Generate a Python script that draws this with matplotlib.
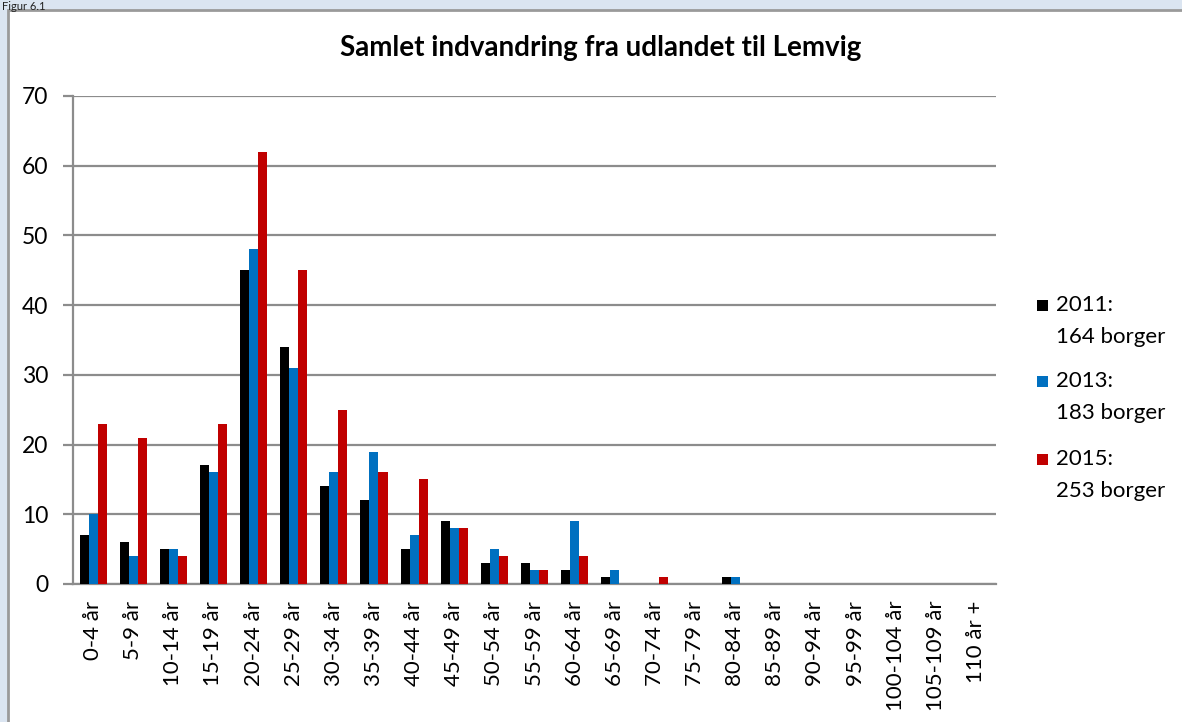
import matplotlib
matplotlib.use("Agg")
import matplotlib.pyplot as plt
import numpy as np
from matplotlib.patches import Rectangle

categories = ["0-4 år", "5-9 år", "10-14 år", "15-19 år", "20-24 år", "25-29 år",
              "30-34 år", "35-39 år", "40-44 år", "45-49 år", "50-54 år", "55-59 år",
              "60-64 år", "65-69 år", "70-74 år", "75-79 år", "80-84 år", "85-89 år",
              "90-94 år", "95-99 år", "100-104 år", "105-109 år", "110 år +"]
v2011 = [7, 6, 5, 17, 45, 34, 14, 12, 5, 9, 3, 3, 2, 1, 0, 0, 1, 0, 0, 0, 0, 0, 0]
v2013 = [10, 4, 5, 16, 48, 31, 16, 19, 7, 8, 5, 2, 9, 2, 0, 0, 1, 0, 0, 0, 0, 0, 0]
v2015 = [23, 21, 4, 23, 62, 45, 25, 16, 15, 8, 4, 2, 4, 0, 1, 0, 0, 0, 0, 0, 0, 0, 0]
series_years = ["2011:", "2013:", "2015:"]
series_counts = ["164 borger", "183 borger", "253 borger"]
colors = ["#000000", "#0070c0", "#c00000"]
yticks = [0, 10, 20, 30, 40, 50, 60, 70]

W, H = 1182, 722
plt.rcParams['font.family'] = ['Lato', 'DejaVu Sans']
fig = plt.figure(figsize=(W / 100, H / 100), dpi=100)
fig.patch.set_facecolor("#dbe5f1")

# white panel with gray border
panel = Rectangle((8 / W, -0.1), 1.2, 1.1 - 10 / H, transform=fig.transFigure,
                  facecolor="white", edgecolor="#9a9a9a", linewidth=2, zorder=0)
fig.add_artist(panel)
fig.text(2 / W, 1 - 1 / H, "Figur 6.1", fontsize=8, va="top", ha="left",
         color="#222222", zorder=5)

ax = fig.add_axes([73 / W, 1 - 584 / H, (996 - 73) / W, (584 - 96) / H])
ax.set_facecolor("none")
x = np.arange(len(categories))
bw = 0.225
for i, (vals, c) in enumerate(zip([v2011, v2013, v2015], colors)):
    ax.bar(x + (i - 1) * bw, vals, width=bw, color=c, zorder=3)

ax.set_xlim(-0.5, len(categories) - 0.5)
ax.set_ylim(0, 70)
ax.set_yticks(yticks)
ax.set_yticklabels([str(t) for t in yticks], fontsize=16.5)
ax.yaxis.grid(True, color="#8c8c8c", linewidth=1.6, zorder=1)
ax.set_xticks(x)
ax.set_xticklabels(categories, rotation=90, fontsize=16, va="top")
ax.tick_params(axis="x", length=0, pad=12)
ax.tick_params(axis="y", length=7, width=1.6, color="#8c8c8c", pad=11)
for s in ["top", "right"]:
    ax.spines[s].set_visible(False)
for s in ["left", "bottom"]:
    ax.spines[s].set_color("#8c8c8c")
    ax.spines[s].set_linewidth(1.6)

fig.text(601 / W, 1 - 48 / H, "Samlet indvandring fra udlandet til Lemvig",
         fontsize=20, fontweight="bold", ha="center", va="center")

# legend drawn manually
ys = [305, 381, 459]
for y, c, yr, cnt in zip(ys, colors, series_years, series_counts):
    fig.add_artist(Rectangle((1037 / W, 1 - (y + 6) / H), 11 / W, 11 / H,
                             transform=fig.transFigure, facecolor=c, edgecolor="none"))
    fig.text(1056 / W, 1 - y / H, yr, fontsize=16, ha="left", va="center")
    fig.text(1056 / W, 1 - (y + 32) / H, cnt, fontsize=16, ha="left", va="center")

fig.savefig("out.png", dpi=100)
